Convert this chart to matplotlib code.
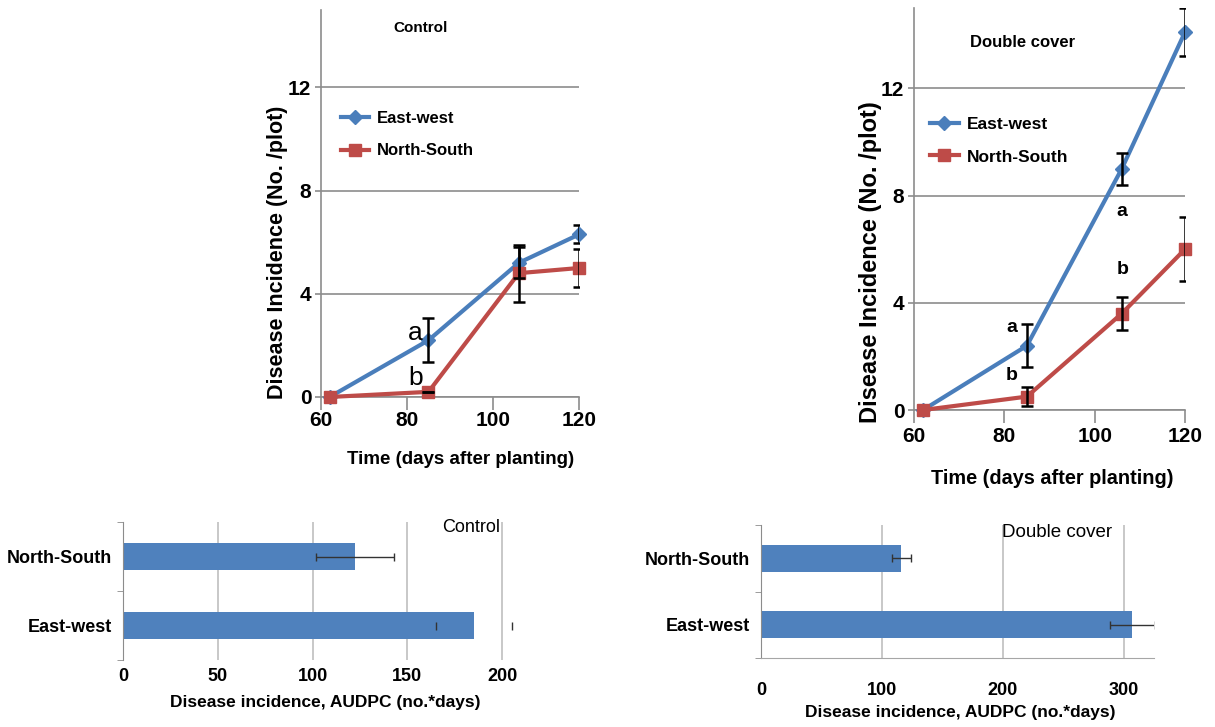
import numpy as np
import matplotlib
matplotlib.use("Agg")
import matplotlib.pyplot as plt

# line chart data: disease incidence (No./plot) against days after planting
days = [62, 85, 106, 120]
ctrl_ew = [0, 2.2, 5.2, 6.3]
ctrl_ew_err = [0, 0.85, 0.6, 0.35]
ctrl_ns = [0, 0.2, 4.8, 5.0]
ctrl_ns_err = [0, 0, 1.1, 0.75]

dbl_days = [62, 85, 106, 120]
dbl_ew = [0, 2.4, 9.0, 14.1]
dbl_ew_err = [0, 0.8, 0.6, 0.9]
dbl_ns = [0, 0.5, 3.6, 6.0]
dbl_ns_err = [0, 0.35, 0.6, 1.2]

# AUDPC bar data
orient = ["East-west", "North-South"]
audpc_ctrl = [185, 122.5]
audpc_ctrl_err = [20, 20.5]
audpc_dbl = [307, 116]
audpc_dbl_err = [18.5, 8]

blue = "#4A7EBB"
red = "#BE4B48"
bar_blue = "#4F81BD"
grid_grey = "#8C8C8C"
font = "Liberation Sans"

W, H = 1215, 727
fig = plt.figure(figsize=(W / 100, H / 100), dpi=100)


def box(l, t, r, b):
    return [l / W, 1 - b / H, (r - l) / W, (b - t) / H]


def ftext(x, y, s, **kw):
    fig.text(x / W, 1 - y / H, s, ha="center", va="center", fontfamily=font, **kw)


def line_panel(rect, x, ew, ew_err, ns, ns_err):
    ax = fig.add_axes(rect)
    ax.plot(x, ew, color=blue, lw=3, marker="D", ms=7, clip_on=False, zorder=3, label="East-west")
    ax.errorbar(x[1:], ew[1:], yerr=ew_err[1:], fmt="none", ecolor="black", elinewidth=1.8,
                capsize=4, capthick=1.8, zorder=4)
    ax.plot(x, ns, color=red, lw=3, marker="s", ms=8, clip_on=False, zorder=3, label="North-South")
    ax.errorbar(x[1:], ns[1:], yerr=ns_err[1:], fmt="none", ecolor="black", elinewidth=1.8,
                capsize=4, capthick=1.8, zorder=4)
    ax.set_xlim(60, 120)
    ax.set_ylim(0, 15)
    ax.set_xticks([60, 80, 100, 120])
    ax.set_yticks([0, 4, 8, 12])
    ax.yaxis.grid(True, color=grid_grey, lw=1.2)
    ax.set_axisbelow(True)
    for s in ["top", "right"]:
        ax.spines[s].set_visible(False)
    for s in ["left", "bottom"]:
        ax.spines[s].set_color(grid_grey)
        ax.spines[s].set_linewidth(1.2)
    ax.tick_params(axis="x", length=9, color=grid_grey, width=1.2)
    ax.tick_params(axis="y", length=4, color=grid_grey, width=1.2, pad=3)
    for lab in ax.get_xticklabels() + ax.get_yticklabels():
        lab.set_fontfamily(font)
        lab.set_fontweight("bold")
        lab.set_fontsize(15)
    return ax


# top left: control
ax1 = line_panel(box(321, 10, 579, 397), days, ctrl_ew, ctrl_ew_err, ctrl_ns, ctrl_ns_err)
ax1.tick_params(axis="x", pad=1)
ax1.text(0.384, 0.953, "Control", transform=ax1.transAxes, ha="center", va="center",
         fontfamily=font, fontweight="bold", fontsize=11)
ax1.text(82.0, 2.5, "a", ha="center", va="center", fontfamily=font, fontsize=19)
ax1.text(82.0, 0.75, "b", ha="center", va="center", fontfamily=font, fontsize=19)
ax1.legend(loc="upper left", bbox_to_anchor=(0.02, 0.778), frameon=False,
           prop={"family": font, "weight": "bold", "size": 12},
           handlelength=1.7, labelspacing=1.05, handletextpad=0.45)
ftext(278, 252, "Disease Incidence (No. /plot)", rotation=90, fontweight="bold", fontsize=15.5)
ftext(461, 460, "Time (days after planting)", fontweight="bold", fontsize=13.5)

# top right: double cover
ax2 = line_panel(box(914, 8, 1185, 410), dbl_days, dbl_ew, dbl_ew_err, dbl_ns, dbl_ns_err)
ax2.tick_params(axis="x", pad=3)
ax2.text(0.40, 0.915, "Double cover", transform=ax2.transAxes, ha="center", va="center",
         fontfamily=font, fontweight="bold", fontsize=12)
for xx, yy, s in [(81.6, 3.06, "a"), (81.6, 1.3, "b"), (106, 7.4, "a"), (106.2, 5.25, "b")]:
    ax2.text(xx, yy, s, ha="center", va="center", fontfamily=font, fontweight="bold", fontsize=14)
ax2.legend(loc="upper left", bbox_to_anchor=(0.0, 0.768), frameon=False,
           prop={"family": font, "weight": "bold", "size": 12.5},
           handlelength=1.7, labelspacing=1.0, handletextpad=0.45)
ftext(871, 262, "Disease Incidence (No. /plot)", rotation=90, fontweight="bold", fontsize=17)
ftext(1052, 478, "Time (days after planting)", fontweight="bold", fontsize=14.3)


def bar_panel(rect, vals, errs, xmax, ticks, ylim, err_line):
    ax = fig.add_axes(rect)
    ypos = np.arange(len(orient))
    ax.barh(ypos, vals, height=0.4, color=bar_blue, zorder=2)
    for y, v, e, lw in zip(ypos, vals, errs, err_line):
        ax.errorbar(v, y, xerr=e, fmt="none", ecolor="#333333", elinewidth=lw,
                    capsize=3, capthick=1, zorder=3)
    ax.set_xlim(0, xmax)
    ax.set_ylim(*ylim)
    ax.set_xticks(ticks)
    ax.set_yticks(ypos)
    ax.set_yticklabels(orient)
    ax.set_yticks([-0.5, 0.5, 1.5], minor=True)
    ax.tick_params(axis="y", which="major", length=0, pad=8)
    ax.tick_params(axis="y", which="minor", length=4, color=grid_grey)
    ax.tick_params(axis="x", length=0)
    ax.xaxis.grid(True, color="#BFBFBF", lw=1.2)
    ax.set_axisbelow(True)
    for s in ["top", "right", "bottom"]:
        ax.spines[s].set_visible(False)
    ax.spines["left"].set_color(grid_grey)
    for lab in ax.get_xticklabels() + ax.get_yticklabels():
        lab.set_fontfamily(font)
        lab.set_fontweight("bold")
        lab.set_fontsize(13)
    return ax


# bottom left: AUDPC control
ax3 = bar_panel(box(123, 522, 521, 660), audpc_ctrl, audpc_ctrl_err, 210,
                [0, 50, 100, 150, 200], (-0.5, 1.5), [0, 1])
ax3.tick_params(axis="x", pad=6)
ax3.text(0.874, 0.957, "Control", transform=ax3.transAxes, ha="center", va="center",
         fontfamily=font, fontsize=13)
ftext(325, 703, "Disease incidence, AUDPC (no.*days)", fontweight="bold", fontsize=12.5)

# bottom right: AUDPC double cover
ax4 = bar_panel(box(761, 525, 1154, 658), audpc_dbl, audpc_dbl_err, 325,
                [0, 100, 200, 300], (-0.35, 1.47), [1, 1])
ax4.spines["bottom"].set_visible(True)
ax4.spines["bottom"].set_color("#A6A6A6")
ax4.tick_params(axis="x", pad=17)
ax4.text(0.753, 0.947, "Double cover", transform=ax4.transAxes, ha="center", va="center",
         fontfamily=font, fontsize=13.5)
ftext(960, 713, "Disease incidence, AUDPC (no.*days)", fontweight="bold", fontsize=12.5)

fig.savefig("out.png", dpi=100)
